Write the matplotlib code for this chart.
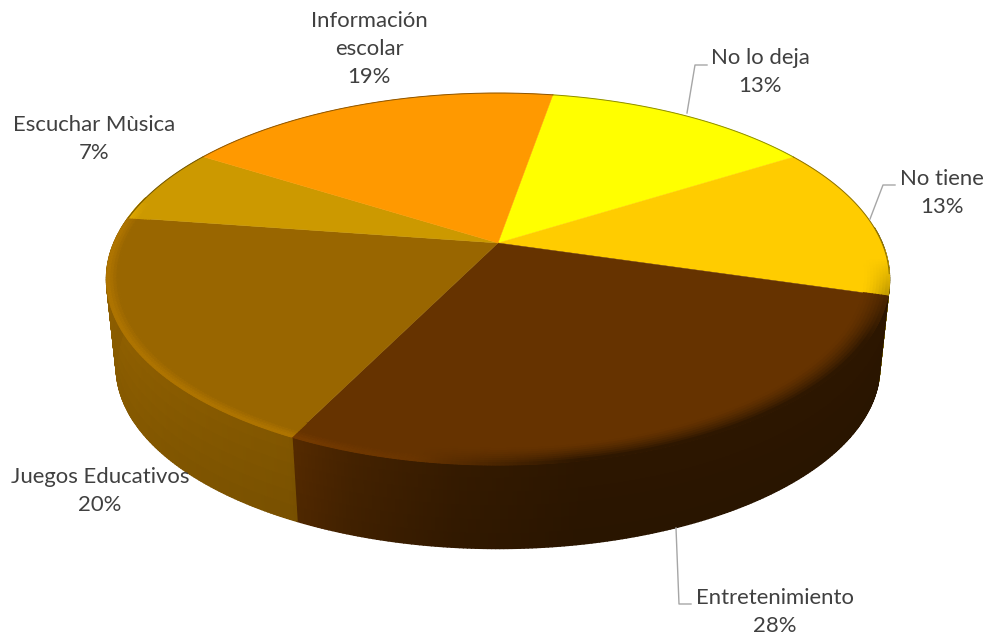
import numpy as np
import matplotlib
matplotlib.use("Agg")
from matplotlib import pyplot as plt
from matplotlib.collections import PolyCollection
from matplotlib.colors import to_rgb

plt.rcParams['font.family'] = ['Lato', 'DejaVu Sans']

categories = ["No lo deja", "No tiene", "Entretenimiento", "Juegos Educativos",
              "Escuchar Mùsica", "Información\nescolar"]
values = [13.4, 13.4, 27.8, 20.0, 6.6, 18.8]
colors = ["#ffff00", "#ffcc00", "#663300", "#996600", "#cc9900", "#ff9900"]

# donde va cada etiqueta (centro del texto, en pixeles)
label_pos = [(760, 72), (942, 193), (775, 612), (100, 491), (94, 139), (369, 49)]
leaders = [
    [(687, 113), (695, 65), (707, 65)],
    [(870, 219), (883, 185), (895, 185)],
    [(676, 528), (679, 604), (691, 604)],
]

# geometria del pastel 3D en pixeles
CX, CY = 498, 243
R, B, K = 384, 179, 0.1935
START = 9.8
DEPTH = 89
SHRINK = 0.975


def project(angle, r=1.0, depth=0.0):
    # angulo en grados desde arriba, sentido horario
    a = np.radians(angle)
    x = r * np.sin(a)
    y = r * np.cos(a)
    den = 1 + K * y
    s = 1 - (1 - SHRINK) * depth
    return CX + s * R * x / den, CY + DEPTH * depth - s * B * y / den


def wall_shade(angle):
    # claro a la izquierda, muy oscuro a la derecha
    a = angle % 360
    return float(np.interp(a, [170, 185, 198, 207, 240, 285], [0.42, 0.5, 0.65, 0.82, 0.9, 0.95]))


def rim_shade(angle, t):
    # t va de 0 (dentro) a 1 (el borde): sombra a la derecha, brillo a la izquierda
    a = angle % 360
    dark = np.interp(a, [95, 120, 170, 190], [0, 0.55, 0.55, 0])
    light = np.interp(a, [185, 205, 275, 285], [0, 0.14, 0.14, 0])
    return 1 - dark * t ** 1.5 + light * max(0, (t - 0.6) / 0.4)


fig = plt.figure(figsize=(9.89, 6.4), dpi=100)
ax = fig.add_axes([0, 0, 1, 1])
ax.set_xlim(0, 989)
ax.set_ylim(640, 0)
ax.axis('off')

edges = START + np.cumsum([0] + values) * 3.6
rows = np.linspace(0, 1, 7)
rings = np.linspace(0.94, 1, 9)

for i, color in enumerate(colors):
    base = np.array(to_rgb(color))
    angles = np.arange(edges[i], edges[i + 1] + 0.5, 0.5)
    angles[-1] = edges[i + 1]

    # pared lateral
    quads, quad_colors = [], []
    for a0, a1 in zip(angles[:-1], angles[1:]):
        if not 85 < a0 % 360 < 285:
            continue
        for d0, d1 in zip(rows[:-1], rows[1:]):
            quads.append([project(a0, depth=d0), project(a1, depth=d0),
                          project(a1, depth=d1), project(a0, depth=d1)])
            quad_colors.append(np.clip(base * wall_shade(a0) * (1.03 - 0.08 * d0), 0, 1))
    if quads:
        ax.add_collection(PolyCollection(quads, facecolors=quad_colors,
                                         edgecolors=quad_colors, linewidths=1.2))

for i, color in enumerate(colors):
    base = np.array(to_rgb(color))
    angles = np.arange(edges[i], edges[i + 1] + 0.5, 0.5)
    angles[-1] = edges[i + 1]

    # cara superior
    xs, ys = project(angles)
    ax.fill(np.r_[CX, xs], np.r_[CY, ys], color=color, lw=0.3, zorder=3)

    # bisel del borde
    quads, quad_colors = [], []
    for a0, a1 in zip(angles[:-1], angles[1:]):
        if not 92 < a0 % 360 < 283:
            continue
        for r0, r1 in zip(rings[:-1], rings[1:]):
            t = (r1 - rings[0]) / (rings[-1] - rings[0])
            quads.append([project(a0, r=r0), project(a1, r=r0),
                          project(a1, r=r1), project(a0, r=r1)])
            quad_colors.append(np.clip(base * rim_shade(a0, t), 0, 1))
    if quads:
        ax.add_collection(PolyCollection(quads, facecolors=quad_colors,
                                         edgecolors=quad_colors, linewidths=0.9, zorder=4))

    # linea fina del borde trasero
    back = angles[(angles % 360 < 100) | (angles % 360 > 278)]
    if len(back) > 1:
        ax.plot(*project(back), color=base * 0.55, lw=0.7, zorder=4)

for pts in leaders:
    ax.plot(*zip(*pts), color="#a6a6a6", lw=1, zorder=5)

for cat, val, (x, y) in zip(categories, values, label_pos):
    ax.text(x, y, f"{cat}\n{val:.0f}%", ha='center', va='center', fontsize=15.9,
            color="#404040", linespacing=1.5, zorder=6)

fig.savefig("out.png", dpi=100)
